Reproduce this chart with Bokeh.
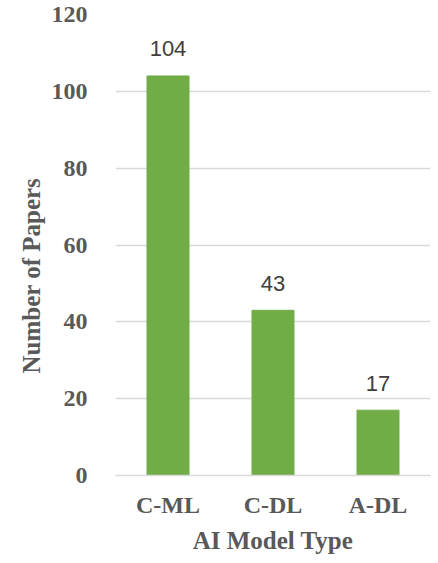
from bokeh.plotting import figure
from bokeh.models import ColumnDataSource, FactorRange, Range1d, FixedTicker, Title
from bokeh.core.properties import value
from bokeh.embed import file_html
from bokeh.resources import INLINE

categories = ["C-ML", "C-DL", "A-DL"]
counts = [104, 43, 17]
y_ticks = [0, 20, 40, 60, 80, 100, 120]
x_title = "AI Model Type"
y_title = "Number of Papers"

src = ColumnDataSource(dict(cat=categories, n=counts, lab=[str(c) for c in counts]))

p = figure(x_range=FactorRange(*categories, range_padding=0), y_range=Range1d(0, 120),
           width=438, height=563, output_backend="svg", toolbar_location=None,
           min_border_left=115, min_border_right=8, min_border_top=14, min_border_bottom=88)
p.outline_line_color = None
p.vbar(x="cat", top="n", width=0.4, source=src, color="#70AD47")
p.text(x="cat", y="n", text="lab", source=src, text_align="center", text_baseline="alphabetic",
       y_offset=-27, text_font=value("Liberation Sans"), text_font_size="22px", text_color="#404040")

p.yaxis.ticker = FixedTicker(ticks=y_ticks)
p.ygrid.grid_line_color = "#D9D9D9"
p.ygrid.grid_line_width = 1.3
p.xgrid.grid_line_color = None

for ax in (p.xaxis[0], p.yaxis[0]):
    ax.major_label_text_font = "Liberation Serif"
    ax.major_label_text_font_style = "bold"
    ax.major_label_text_font_size = "24px"
    ax.major_label_text_color = "#595959"
    ax.major_tick_line_color = None
    ax.minor_tick_line_color = None

p.yaxis.axis_line_color = None
p.yaxis.major_label_standoff = 22
p.xaxis.axis_line_color = "#D9D9D9"
p.xaxis.axis_line_width = 1.3
p.xaxis.major_label_standoff = 10

def mk_title(t, align, standoff):
    return Title(text=t, align=align, text_font="Liberation Serif", text_font_style="bold",
                 text_font_size="25px", text_color="#595959", standoff=standoff)

p.add_layout(mk_title(x_title, "center", 8), "below")
yt = mk_title(y_title, "left", 4)
yt.offset = 102
yt.vertical_align = "top"
p.add_layout(yt, "left")

open("out.html", "w").write(file_html(p, INLINE))
